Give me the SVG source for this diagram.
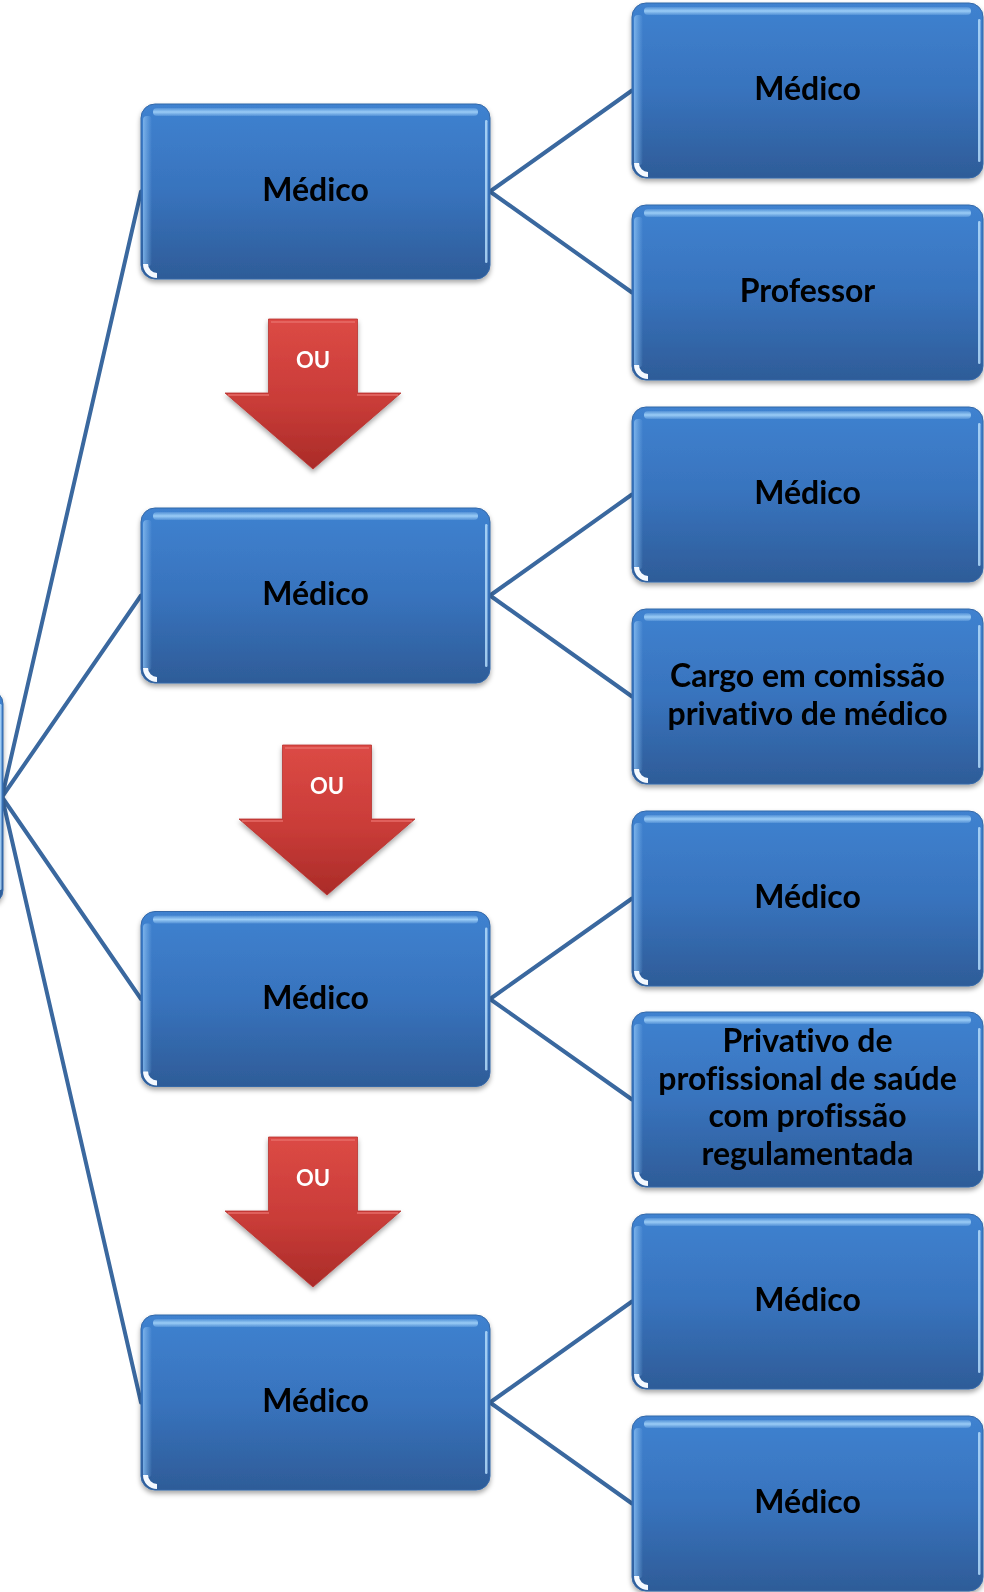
<svg xmlns="http://www.w3.org/2000/svg" width="984" height="1592" viewBox="0 0 984 1592">
<style>
 .box{fill:url(#boxGrad);stroke:#3468a8;stroke-width:1}
 .sh{filter:url(#shadow)}
 .hl{fill:url(#hlGrad)}
 .ledge{fill:url(#ledgeGrad)}
 .redge{fill:#b3dafa;opacity:.85}
 .corner{fill:#f4f9ff}
 .lbl{font-family:Lato,"Liberation Sans",sans-serif;font-weight:700;font-size:32px;fill:#000;text-anchor:middle;font-variant-ligatures:none}
 .ou{font-family:Lato,"Liberation Sans",sans-serif;font-weight:700;font-size:22px;fill:#fff;text-anchor:middle}
 .conn line{stroke:#3a689f;stroke-width:4;stroke-linecap:round}
 .arrow{fill:url(#redGrad);stroke:#b8322f;stroke-width:0.8;stroke-linejoin:miter}
 .abev{fill:none;stroke:#e8706b;stroke-width:2;opacity:.7}
</style>
<defs>
 <linearGradient id="boxGrad" x1="0" y1="0" x2="0" y2="1">
  <stop offset="0" stop-color="#3f82d0"/>
  <stop offset="0.5" stop-color="#3873bd"/>
  <stop offset="1" stop-color="#2e5c98"/>
 </linearGradient>
 <linearGradient id="hlGrad" x1="0" y1="0" x2="0" y2="1">
  <stop offset="0" stop-color="#9fd0f8" stop-opacity="0.2"/>
  <stop offset="0.5" stop-color="#9fd0f8" stop-opacity="0.95"/>
  <stop offset="1" stop-color="#9fd0f8" stop-opacity="0.2"/>
 </linearGradient>
 <linearGradient id="ledgeGrad" x1="0" y1="0" x2="1" y2="0">
  <stop offset="0" stop-color="#7fb6ec" stop-opacity="0.9"/>
  <stop offset="1" stop-color="#7fb6ec" stop-opacity="0"/>
 </linearGradient>
 <linearGradient id="redGrad" x1="0" y1="0" x2="0" y2="1">
  <stop offset="0" stop-color="#dc4a45"/>
  <stop offset="0.55" stop-color="#c93c38"/>
  <stop offset="1" stop-color="#aa2b28"/>
 </linearGradient>
 <filter id="shadow" x="-5%" y="-5%" width="110%" height="115%">
  <feDropShadow dx="0" dy="3" stdDeviation="2.5" flood-color="#000" flood-opacity="0.35"/>
 </filter>
 <g id="rbox">
  <rect class="box" width="351" height="175" rx="14"/>
  <rect class="hl" x="12" y="4" width="327" height="8" rx="4"/>
  <rect class="ledge" x="2" y="12" width="9" height="150" rx="4"/>
  <rect class="redge" x="346" y="16" width="2.5" height="143" rx="1.2"/>
  <path class="corner" d="M2,160 A14,14 0 0 0 16,174 L16,169 A9,9 0 0 1 7,160 Z"/>
 </g>
 <g id="mbox">
  <rect class="box" width="349" height="175" rx="14"/>
  <rect class="hl" x="12" y="4" width="325" height="8" rx="4"/>
  <rect class="ledge" x="2" y="12" width="9" height="150" rx="4"/>
  <rect class="redge" x="344" y="16" width="2.5" height="143" rx="1.2"/>
  <path class="corner" d="M2,160 A14,14 0 0 0 16,174 L16,169 A9,9 0 0 1 7,160 Z"/>
 </g>
</defs>
<rect width="984" height="1592" fill="#fff"/>

<g id="connectors" class="conn">
 <line x1="2" y1="797" x2="141" y2="191.5"/>
 <line x1="2" y1="797" x2="141" y2="595.5"/>
 <line x1="2" y1="797" x2="141" y2="999"/>
 <line x1="2" y1="797" x2="141" y2="1402.5"/>
 <line x1="490" y1="191.5" x2="632" y2="90.5"/>
 <line x1="490" y1="191.5" x2="632" y2="292.5"/>
 <line x1="490" y1="595.5" x2="632" y2="494.5"/>
 <line x1="490" y1="595.5" x2="632" y2="696.5"/>
 <line x1="490" y1="999" x2="632" y2="898.5"/>
 <line x1="490" y1="999" x2="632" y2="1099.5"/>
 <line x1="490" y1="1402.5" x2="632" y2="1301.5"/>
 <line x1="490" y1="1402.5" x2="632" y2="1503.5"/>
</g>

<g id="root" class="sh" transform="translate(-347,690)">
 <rect class="box" width="350" height="214" rx="14"/>
 <rect class="redge" x="346" y="14" width="2.5" height="186" rx="1.2"/>
</g>

<g id="m1" class="sh" transform="translate(141,104)"><use href="#mbox"/><text class="lbl" x="174.5" y="97">Médico</text></g>
<g id="m2" class="sh" transform="translate(141,508)"><use href="#mbox"/><text class="lbl" x="174.5" y="97">Médico</text></g>
<g id="m3" class="sh" transform="translate(141,911.5)"><use href="#mbox"/><text class="lbl" x="174.5" y="97">Médico</text></g>
<g id="m4" class="sh" transform="translate(141,1315)"><use href="#mbox"/><text class="lbl" x="174.5" y="97">Médico</text></g>

<g id="r1" class="sh" transform="translate(632,3)"><use href="#rbox"/><text class="lbl" x="175.5" y="97">Médico</text></g>
<g id="r2" class="sh" transform="translate(632,205)"><use href="#rbox"/><text class="lbl" x="175.5" y="97">Professor</text></g>
<g id="r3" class="sh" transform="translate(632,407)"><use href="#rbox"/><text class="lbl" x="175.5" y="97">Médico</text></g>
<g id="r4" class="sh" transform="translate(632,609)"><use href="#rbox"/><text class="lbl" x="175.5" y="78">Cargo em comissão</text><text class="lbl" x="175.5" y="116">privativo de médico</text></g>
<g id="r5" class="sh" transform="translate(632,811)"><use href="#rbox"/><text class="lbl" x="175.5" y="97">Médico</text></g>
<g id="r6" class="sh" transform="translate(632,1012)"><use href="#rbox"/><text class="lbl" x="175.5" y="40">Privativo de</text><text class="lbl" x="175.5" y="78">profissional de saúde</text><text class="lbl" x="175.5" y="115">com profissão</text><text class="lbl" x="175.5" y="153">regulamentada</text></g>
<g id="r7" class="sh" transform="translate(632,1214)"><use href="#rbox"/><text class="lbl" x="175.5" y="97">Médico</text></g>
<g id="r8" class="sh" transform="translate(632,1416)"><use href="#rbox"/><text class="lbl" x="175.5" y="97">Médico</text></g>

<g id="ou1" class="sh" transform="translate(313,319)">
 <path class="arrow" d="M-44.5,0 H44.5 V74 H88 L0,150 L-88,74 H-44.5 Z"/>
 <path class="abev" d="M-42,3 H42 M-85,76 H-44 M44,76 H85"/>
 <text class="ou" x="0" y="49">OU</text>
</g>
<g id="ou2" class="sh" transform="translate(327,745)">
 <path class="arrow" d="M-44.5,0 H44.5 V74 H88 L0,150 L-88,74 H-44.5 Z"/>
 <path class="abev" d="M-42,3 H42 M-85,76 H-44 M44,76 H85"/>
 <text class="ou" x="0" y="49">OU</text>
</g>
<g id="ou3" class="sh" transform="translate(313,1137)">
 <path class="arrow" d="M-44.5,0 H44.5 V74 H88 L0,150 L-88,74 H-44.5 Z"/>
 <path class="abev" d="M-42,3 H42 M-85,76 H-44 M44,76 H85"/>
 <text class="ou" x="0" y="49">OU</text>
</g>
</svg>
